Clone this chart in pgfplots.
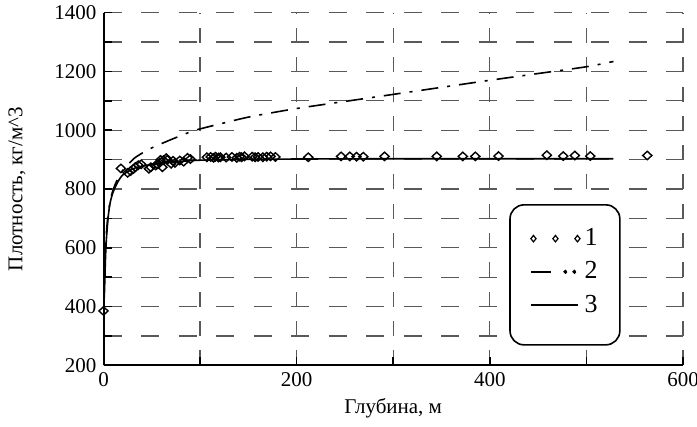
\documentclass[border=0pt]{standalone}
\usepackage{fontspec}
\setmainfont{Liberation Serif}
\newfontfamily\tickfont{Liberation Serif}
\usepackage{pgfplots}
\pgfplotsset{compat=1.18}

\begin{document}
\begin{tikzpicture}
\begin{axis}[
  scale only axis,
  width=289.75pt, height=176.3pt,
  xmin=0, xmax=600, ymin=200, ymax=1400,
  axis x line*=bottom, axis y line*=left,
  axis line style={-, line width=1pt, black},
  xtick={0,200,...,600}, ytick={200,400,...,1400},
  minor tick num=1,
  tick align=inside,
  major tick length=4pt, minor tick length=4pt,
  tick style={black, line width=0.8pt},
  grid=both,
  major x grid style={black!65, line width=0.6pt, dash pattern=on 7.5pt off 7.15pt},
  minor x grid style={black!65, line width=0.6pt, dash pattern=on 7.5pt off 7.15pt},
  major y grid style={black!65, line width=0.6pt, dash pattern=on 9pt off 9.75pt},
  minor y grid style={black!65, line width=0.6pt, dash pattern=on 9pt off 9.75pt},
  xticklabel={\pgfmathparse{int(round(\tick))}\hbox{\tickfont\fontsize{10.5}{12}\selectfont\pgfmathresult}},
  yticklabel={\pgfmathparse{int(round(\tick))}\hbox{\tickfont\fontsize{10.5}{12}\selectfont\pgfmathresult}},
  ticklabel style={font=\tickfont\fontsize{10.5}{12}\selectfont},
  xlabel={Глубина, м},
  ylabel={Плотность, кг/м\textasciicircum 3},
  label style={font=\fontsize{10.5}{12}\selectfont},
  xlabel style={at={(axis description cs:0.5,-0.122)}, anchor=center},
  ylabel style={at={(axis description cs:-0.149,0.5)}, anchor=center},
  legend style={draw=none, fill=none, at={(rel axis cs:0.798,0.265)}, anchor=center,
    font=\fontsize{13}{14}\selectfont, row sep=2.5pt, inner sep=0pt},
  legend cell align=left,
]
% white legend frame
\draw[fill=white, line width=0.8pt, rounded corners=7pt]
  (rel axis cs:0.7015,0.455) rectangle (rel axis cs:0.891,0.058);

% 1: measured points
\addplot[only marks, mark=diamond, mark size=2.1pt,
  mark options={xscale=1.45, line width=0.7pt, black},
  legend image code/.code={
    \foreach \xx in {0pt,11pt,22pt}
      \draw[line width=0.6pt] (\xx,1.6pt) -- ++(1.3pt,-1.6pt) -- ++(-1.3pt,-1.6pt) -- ++(-1.3pt,1.6pt) -- cycle;
  }]
  coordinates {
  (0,385)
  (18,870)(25,855)(28,861)(31,868)(33,875)(36,881)(39,884)
  (47,869)(49,874)(54,880)(56,884)(58,889)(59,899)(61,874)(62,898)(65,905)(66,899)
  (70,886)(72,896)(74,889)(79,897)(83,893)(87,906)(90,902)
  (107,908)(111,909)(114,906)(116,910)(119,907)(121,908)(127,907)(133,909)(138,906)
  (141,910)(143,908)(146,911)(154,910)(157,908)(160,909)(165,908)(169,910)(173,911)(178,909)
  (212,908)(246,911)(255,911)(262,910)(269,910)(291,911)(345,911)(372,911)(385,911)
  (409,912)(459,915)(476,912)(488,914)(504,912)(563,914)
  };
\addlegendentry{1}

% 2: dash-dot model curve
\addplot[black, line width=0.8pt, smooth, tension=0.4,
  dash pattern=on 8.5pt off 4.5pt on 1.5pt off 4.5pt,
  legend image code/.code={
    \draw[solid, line width=0.8pt] (-1pt,0) -- (9pt,0);
    \fill (16pt,0) circle (0.6pt);
    \fill (20.5pt,0) circle (0.6pt);
  }]
  coordinates {
  (0,390)(1.5,560)(3,650)(5,720)(8,775)(12,815)(18,855)(25,882)(32,905)
  (40,922)(52,943)(75,975)(95,1000)(125,1025)(152,1046)(200,1074)
  (250,1098)(300,1122)(350,1146)(400,1170)(450,1193)(500,1216)(528,1234)
  };
\addlegendentry{2}

% 3: solid model curve
\addplot[black, line width=0.8pt, smooth, tension=0.4,
  legend image code/.code={
    \draw[line width=0.8pt] (-1pt,0) -- (22.5pt,0);
  }]
  coordinates {
  (0,385)(1,450)(2,560)(3,630)(5,710)(7,755)(10,790)(15,825)(20,848)
  (30,868)(40,878)(60,888)(80,894)(100,898)(150,901)(200,902)(300,903)(400,903)(528,903)
  };
\addlegendentry{3}
\end{axis}
\pgfresetboundingbox
\path[use as bounding box] ([shift={(-51.75pt,-30.8pt)}]current axis.south west)
  rectangle ([shift={(7pt,6.35pt)}]current axis.north east);
\end{tikzpicture}
\end{document}
